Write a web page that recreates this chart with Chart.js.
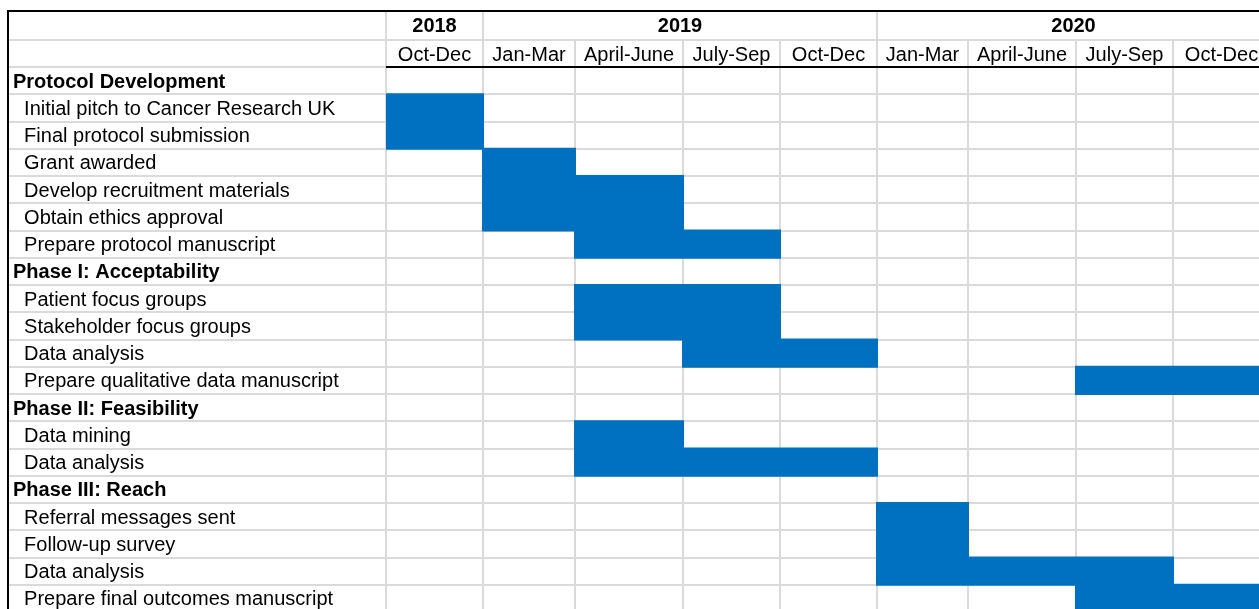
<!DOCTYPE html>
<html>
<head>
<meta charset="utf-8">
<script src="https://cdn.jsdelivr.net/npm/chart.js@4.4.1/dist/chart.umd.min.js"></script>
<style>
  html, body { margin: 0; padding: 0; overflow: hidden; background: #fff; width: 1259px; height: 609px; }
  #wrap { position: absolute; left: 0; top: 0; width: 1270px; height: 612px; }
</style>
</head>
<body>
<div id="wrap"><canvas id="c" width="1270" height="612"></canvas></div>
<script>
// ---------------- data ----------------
const tasks = [
  'Protocol Development',
  'Initial pitch to Cancer Research UK',
  'Final protocol submission',
  'Grant awarded',
  'Develop recruitment materials',
  'Obtain ethics approval',
  'Prepare protocol manuscript',
  'Phase I: Acceptability',
  'Patient focus groups',
  'Stakeholder focus groups',
  'Data analysis',
  'Prepare qualitative data manuscript',
  'Phase II: Feasibility',
  'Data mining',
  'Data analysis',
  'Phase III: Reach',
  'Referral messages sent',
  'Follow-up survey',
  'Data analysis',
  'Prepare final outcomes manuscript'
];
const rowIsSection = [true, false, false, false, false, false, false,
                      true, false, false, false, false,
                      true, false, false,
                      true, false, false, false, false];
// start / end in quarter index (0 = Oct-Dec 2018)
const taskStart = [null, 0, 0, 1, 1, 1, 2, null, 2, 2, 3, 7, null, 2, 2, null, 5, 5, 5, 7];
const taskEnd   = [null, 1, 1, 2, 3, 3, 4, null, 4, 4, 5, 9, null, 3, 5, null, 6, 6, 8, 9];

const quarterLabels = ['Oct-Dec', 'Jan-Mar', 'April-June', 'July-Sep', 'Oct-Dec',
                       'Jan-Mar', 'April-June', 'July-Sep', 'Oct-Dec'];
const yearLabels = ['2018', '2019', '2020'];
const yearQuarterCounts = [1, 4, 4];

// ---------------- layout / style ----------------
const COLUMN_WIDTHS = [378, 97, 92, 108, 97, 97, 91, 108, 97, 97]; // label column + quarter columns
const TOTAL_W = COLUMN_WIDTHS.reduce((a, b) => a + b, 0);
const X_MIN = -1, X_MAX = quarterLabels.length;
const GRID = '#dadada';
const BAR = '#0070C0';
const FONT = '"Liberation Sans", Arial, sans-serif';

Chart.defaults.font.family = FONT;
Chart.defaults.color = '#000';

function valueToWeight(v) {
  let r = v - X_MIN, acc = 0;
  if (r <= 0) return r * COLUMN_WIDTHS[0];
  for (let i = 0; i < COLUMN_WIDTHS.length; i++) {
    if (r <= 1) return acc + r * COLUMN_WIDTHS[i];
    acc += COLUMN_WIDTHS[i]; r -= 1;
  }
  return acc + r * COLUMN_WIDTHS[COLUMN_WIDTHS.length - 1];
}
function weightToValue(w) {
  let acc = 0;
  if (w <= 0) return X_MIN + w / COLUMN_WIDTHS[0];
  for (let i = 0; i < COLUMN_WIDTHS.length; i++) {
    if (w <= acc + COLUMN_WIDTHS[i]) return X_MIN + i + (w - acc) / COLUMN_WIDTHS[i];
    acc += COLUMN_WIDTHS[i];
  }
  return X_MIN + COLUMN_WIDTHS.length + (w - acc) / COLUMN_WIDTHS[COLUMN_WIDTHS.length - 1];
}

class ColumnScale extends Chart.LinearScale {
  static id = 'columns';
  static defaults = {};
  getPixelForValue(value) {
    if (value === null || value === undefined || isNaN(value)) return NaN;
    return this.getPixelForDecimal(valueToWeight(value) / TOTAL_W);
  }
  getValueForPixel(pixel) {
    return weightToValue(this.getDecimalForPixel(pixel) * TOTAL_W);
  }
}
Chart.register(ColumnScale);

const yearBounds = [];
{ let q = 0; yearQuarterCounts.forEach(n => { yearBounds.push([q, q + n]); q += n; }); }
const yearCenters = yearBounds.map(([a, b]) => weightToValue((valueToWeight(a) + valueToWeight(b)) / 2));
const yearEdges = [0].concat(yearBounds.map(b => b[1]));

const zeroPad = s => { s.paddingTop = 0; s.paddingBottom = 0; s.paddingLeft = 0; s.paddingRight = 0; };

const sheetLines = {
  id: 'sheetLines',
  afterDraw(chart) {
    const { ctx, chartArea: ca, scales } = chart;
    const x = scales.x, xq = scales.xq, xy = scales.xy;
    const px = v => x.getPixelForValue(v);
    const seg = (x1, y1, x2, y2) => { ctx.beginPath(); ctx.moveTo(x1, y1); ctx.lineTo(x2, y2); ctx.stroke(); };
    ctx.save();
    ctx.strokeStyle = GRID; ctx.lineWidth = 2;
    seg(ca.left, Math.round(xq.top), ca.right, Math.round(xq.top));
    for (let v = 0; v <= quarterLabels.length; v++) {
      const p = Math.round(px(v));
      seg(p, xq.top, p, xq.bottom);
    }
    yearEdges.forEach(v => { const p = Math.round(px(v)); seg(p, xy.top, p, xy.bottom); });
    ctx.strokeStyle = '#000'; ctx.lineWidth = 2;
    seg(ca.left - 1, Math.round(xy.top), ca.right, Math.round(xy.top));
    seg(Math.round(px(0)), Math.round(ca.top), ca.right, Math.round(ca.top));
    seg(Math.round(ca.left), xy.top - 1, Math.round(ca.left), ca.bottom);
    ctx.restore();
  }
};

new Chart(document.getElementById('c'), {
  type: 'bar',
  data: {
    labels: tasks,
    datasets: [{
      data: tasks.map((_, i) => taskStart[i] === null ? null : [taskStart[i], taskEnd[i]]),
      backgroundColor: BAR,
      borderWidth: 0,
      inflateAmount: 1,
      barPercentage: 1,
      categoryPercentage: 1,
      xAxisID: 'x',
      yAxisID: 'y'
    }]
  },
  options: {
    indexAxis: 'y',
    responsive: false,
    animation: false,
    layout: { padding: { top: 11, left: 8, right: 0, bottom: 0 } },
    plugins: { legend: { display: false }, tooltip: { enabled: false }, title: { display: false } },
    scales: {
      x: {
        type: 'columns', axis: 'x', position: 'top', weight: 0,
        min: X_MIN, max: X_MAX, bounds: 'data',
        afterBuildTicks: s => { s.ticks = []; for (let v = X_MIN; v <= X_MAX; v++) s.ticks.push({ value: v }); },
        afterFit: s => { s.height = 0; zeroPad(s); },
        ticks: { display: false },
        grid: { color: GRID, lineWidth: 2, drawTicks: false },
        border: { display: false }
      },
      xq: {
        type: 'columns', axis: 'x', position: 'top', weight: 1,
        min: X_MIN, max: X_MAX, bounds: 'data',
        afterBuildTicks: s => { s.ticks = quarterLabels.map((_, i) => ({ value: i + 0.5 })); },
        afterFit: s => { s.height = 27; zeroPad(s); },
        ticks: { autoSkip: false, maxRotation: 0, minRotation: 0, padding: 0, font: { size: 20 },
                 callback: (v, i) => quarterLabels[i] },
        grid: { display: false, drawTicks: false },
        border: { display: false }
      },
      xy: {
        type: 'columns', axis: 'x', position: 'top', weight: 2,
        min: X_MIN, max: X_MAX, bounds: 'data',
        afterBuildTicks: s => { s.ticks = yearCenters.map(v => ({ value: v })); },
        afterFit: s => { s.height = 29; zeroPad(s); },
        ticks: { autoSkip: false, maxRotation: 0, minRotation: 0, padding: 2, font: { size: 20, weight: 'bold' },
                 callback: (v, i) => yearLabels[i] },
        grid: { display: false, drawTicks: false },
        border: { display: false }
      },
      y: {
        type: 'category', position: 'left', offset: true,
        afterFit: s => { s.width = 0; zeroPad(s); },
        grid: { offset: true, color: GRID, lineWidth: 2, drawTicks: false },
        border: { display: false },
        ticks: {
          mirror: true, padding: 5, labelOffset: 1.5, autoSkip: false,
          font: ctx => ({ size: 20, weight: rowIsSection[ctx.index] ? 'bold' : 'normal' }),
          callback: (v, i) => (rowIsSection[i] ? '' : '  ') + tasks[i]
        }
      }
    }
  },
  plugins: [sheetLines]
});
</script>
</body>
</html>
